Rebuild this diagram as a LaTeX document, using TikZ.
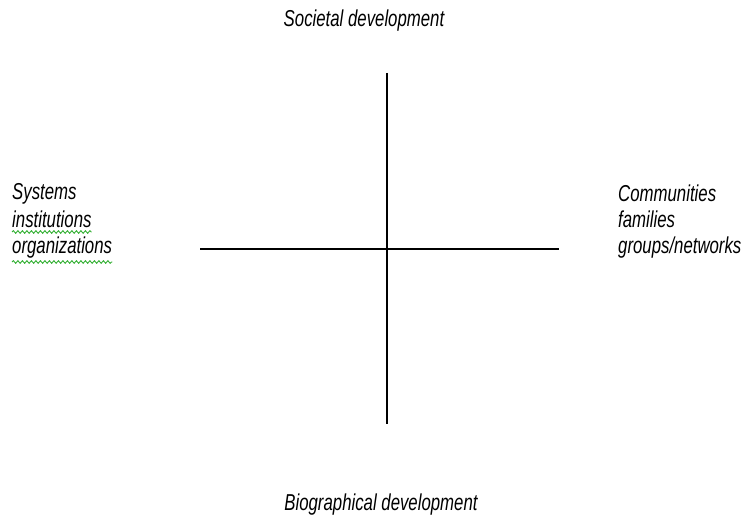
\documentclass[tikz,border=0pt]{standalone}
\usepackage{graphicx}
\usepackage{fontspec}
\setmainfont{Liberation Sans}
\usetikzlibrary{calc, decorations.pathmorphing}

\newcommand{\narrowtext}[1]{\scalebox{0.73}[1]{#1}}

\begin{document}
\begin{tikzpicture}[x=1pt, y=-1pt,
  axislabel/.style={inner sep=0pt, font=\fontsize{23}{27}\selectfont\itshape},
  spellmark/.style={draw={rgb,255:red,50;green,175;blue,50}, line width=0.9pt,
    decorate, decoration={snake, segment length=4.5pt, amplitude=1.3pt}}]
  \useasboundingbox (0, 0) rectangle (745, 516);

% axes
  \coordinate (top) at (387, 73);
  \coordinate (bottom) at (387, 424);
  \coordinate (left) at (200, 249);
  \coordinate (right) at (559, 249);
  \draw[line width=1.3pt] (top) -- (bottom);
  \draw[line width=1.3pt] (left) -- (right);

% vertical axis labels
  \draw (364, 27) node[axislabel, anchor=base] (soc) {\narrowtext{Societal development}};
  \draw (381, 510) node[axislabel, anchor=base] (bio) {\narrowtext{Biographical development}};

% left labels
  \draw (12, 200) node[axislabel, anchor=base west] (sys) {\narrowtext{Systems}};
  \draw ($(sys.base west) + (0, 27)$) node[axislabel, anchor=base west] (inst) {\narrowtext{institutions}};
  \draw ($(inst.base west) + (0, 27)$) node[axislabel, anchor=base west] (org) {\narrowtext{organizations}};
  \draw[spellmark] ($(inst.base west) + (0, 5)$) -- ($(inst.base east) + (0, 5)$);
  \draw[spellmark] ($(org.base west) + (0, 8)$) -- ($(org.base east) + (0, 8)$);

% right labels
  \draw (618, 201) node[axislabel, anchor=base west] (comm) {\narrowtext{Communities}};
  \draw ($(comm.base west) + (0, 26)$) node[axislabel, anchor=base west] (fam) {\narrowtext{families}};
  \draw ($(fam.base west) + (0, 26)$) node[axislabel, anchor=base west] (grp) {\narrowtext{groups/networks}};
\end{tikzpicture}
\end{document}
